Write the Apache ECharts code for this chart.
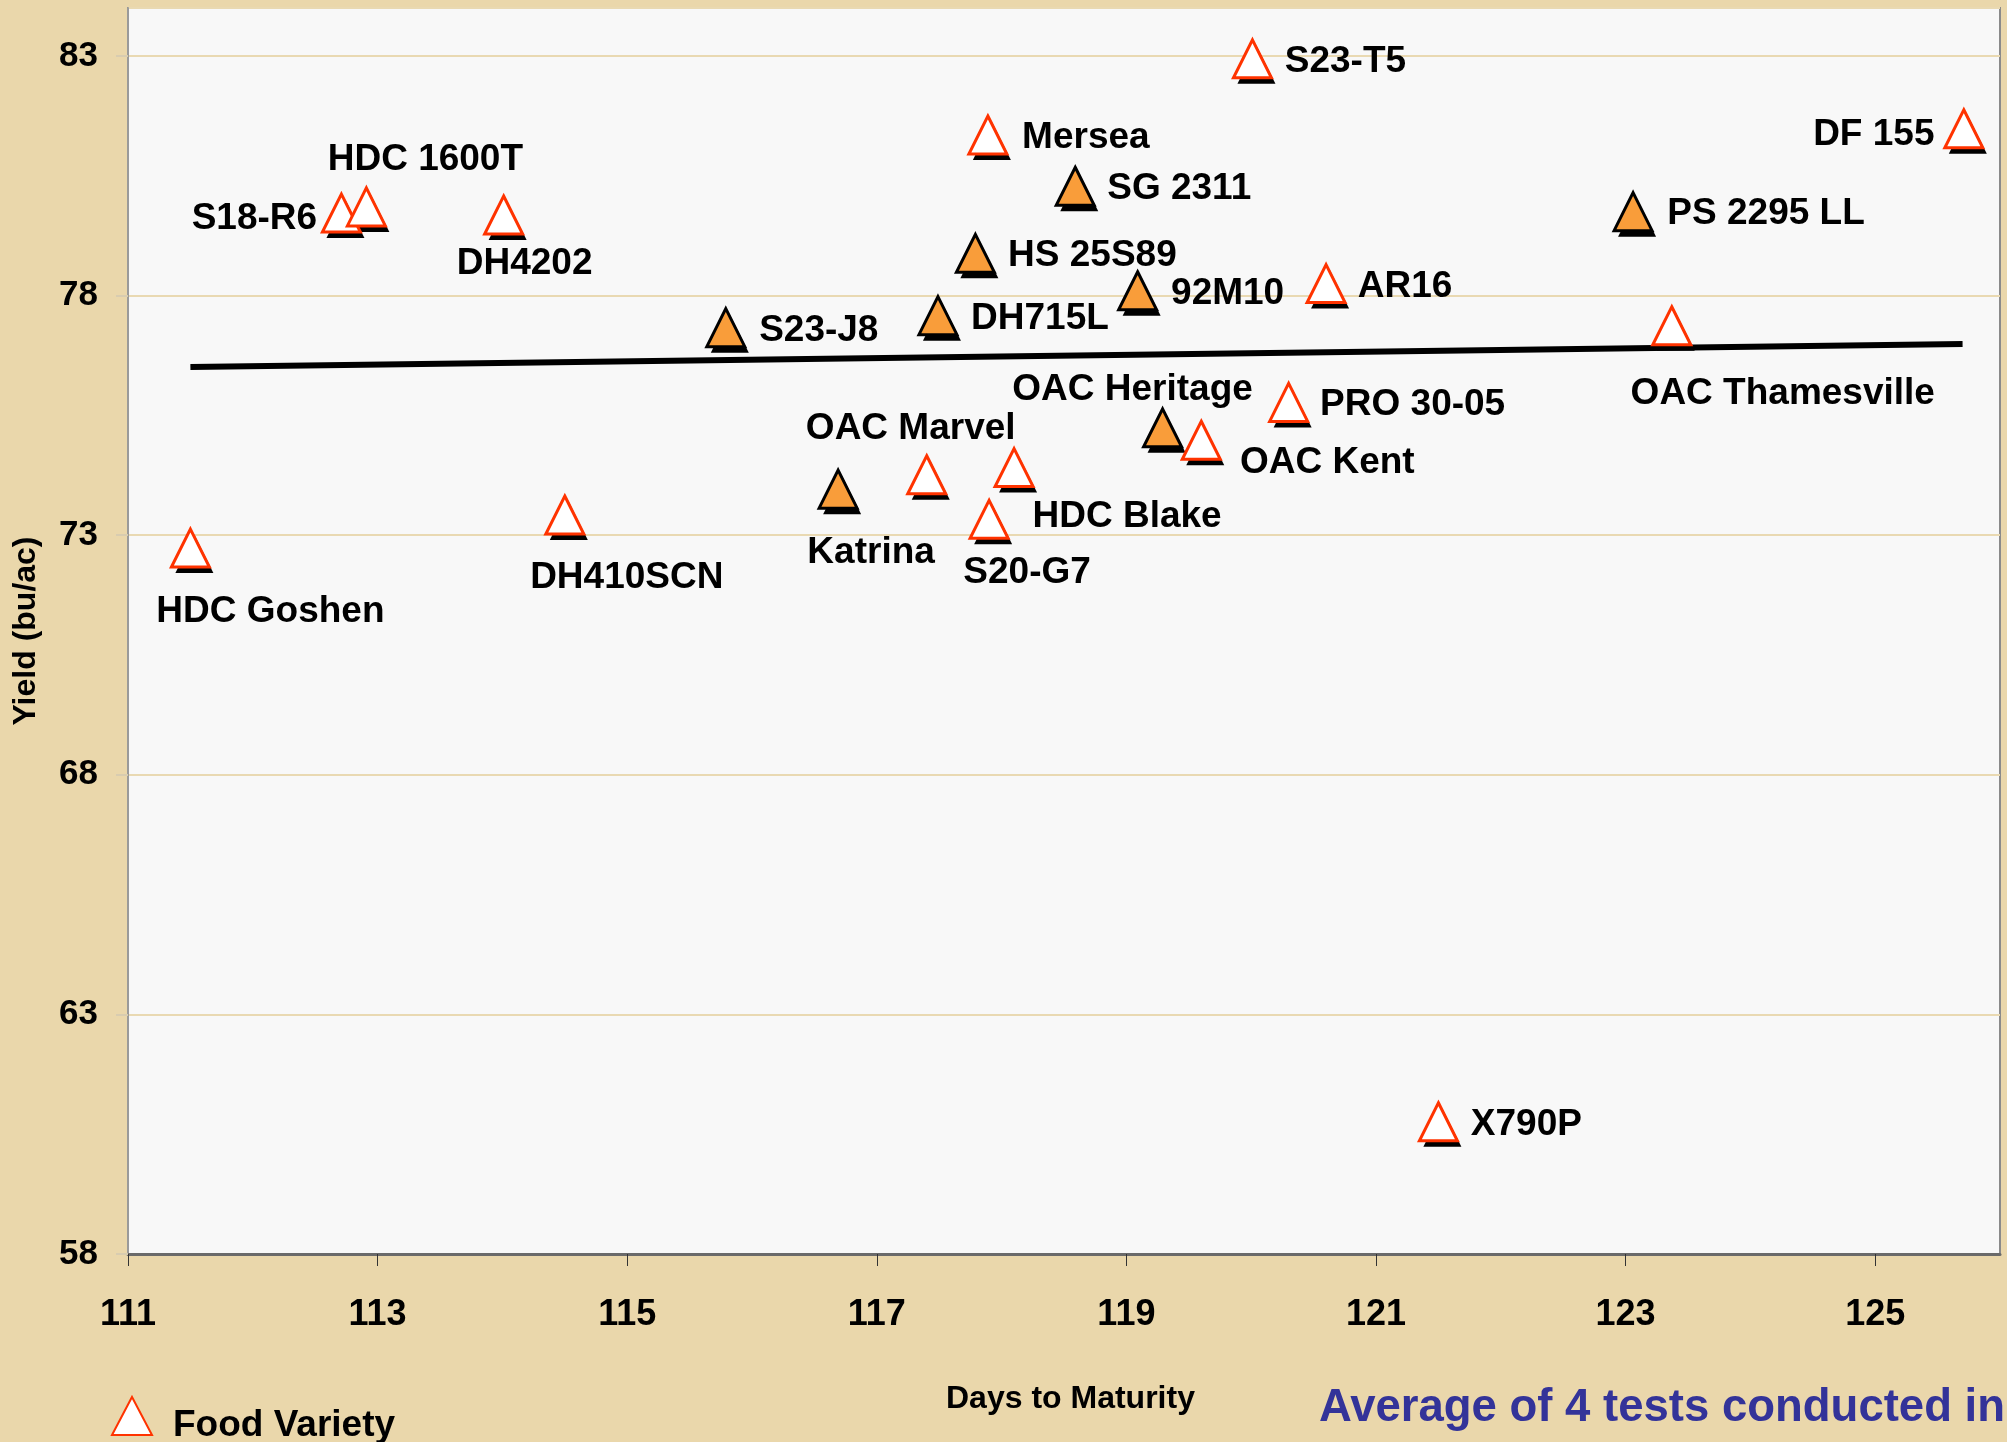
<!DOCTYPE html>
<html>
<head>
<meta charset="utf-8">
<title>Yield vs Days to Maturity</title>
<script src="https://cdn.jsdelivr.net/npm/echarts@6/dist/echarts.min.js"></script>
<style>
  html, body { margin: 0; padding: 0; background: #EAD7AB; }
  #chart { width: 2007px; height: 1442px; }
</style>
</head>
<body>
<div id="chart"></div>
<script>
// food varieties (white triangles)
const foodNames = ['HDC Goshen', 'S18-R6', 'HDC 1600T', 'DH4202', 'DH410SCN', 'OAC Marvel', 'Mersea', 'S20-G7',
  'HDC Blake', 'OAC Kent', 'S23-T5', 'PRO 30-05', 'AR16', 'X790P', 'OAC Thamesville', 'DF 155']
const foodDays = [111.5, 112.71, 112.91, 114.01, 114.5, 117.4, 117.89, 117.9,
  118.1, 119.6, 120.01, 120.3, 120.6, 121.5, 123.37, 125.71]
const foodYield = [72.73, 79.72, 79.85, 79.68, 73.42, 74.26, 81.35, 73.33,
  74.41, 74.98, 82.94, 75.77, 78.25, 60.76, 77.37, 81.48]

// feed varieties (orange triangles)
const feedNames = ['S23-J8', 'Katrina', 'DH715L', 'HS 25S89', 'SG 2311', '92M10', 'OAC Heritage', 'PS 2295 LL']
const feedDays = [115.79, 116.69, 117.49, 117.79, 118.59, 119.09, 119.29, 123.06]
const feedYield = [77.33, 73.96, 77.58, 78.88, 80.28, 78.1, 75.24, 79.75]

// linear trend line end points
const trendDays = [111.5, 125.7]
const trendYield = [76.51, 76.99]

// where each label sits relative to its marker (px)
const labelOffsets = {
  'HDC Goshen': [80, 64], 'S18-R6': [-87, 6], 'HDC 1600T': [59, -47], 'DH4202': [21, 49],
  'DH410SCN': [62, 63], 'S23-J8': [93, 3], 'Katrina': [33, 64], 'OAC Marvel': [-16, -46],
  'DH715L': [102, 3], 'HS 25S89': [117, 2], 'Mersea': [98, 3], 'S20-G7': [38, 53],
  'HDC Blake': [113, 49], 'SG 2311': [104, 3], '92M10': [90, 3], 'OAC Heritage': [-30, -38],
  'OAC Kent': [126, 23], 'S23-T5': [93, 3], 'PRO 30-05': [124, 2], 'AR16': [79, 3],
  'X790P': [88, 3], 'PS 2295 LL': [133, 2], 'OAC Thamesville': [111, 68], 'DF 155': [-90, 6]
}

const FONT = '"Liberation Sans", Arial, sans-serif'

function points(names, days, yields, withLabel) {
  return names.map((name, i) => ({
    name,
    value: [days[i], yields[i]],
    label: withLabel ? { offset: labelOffsets[name] || [0, 0] } : undefined
  }))
}

const markLabel = {
  show: true,
  position: 'inside',
  formatter: '{b}',
  color: '#000',
  fontFamily: FONT,
  fontWeight: 'bold',
  fontSize: 37,
  align: 'center',
  verticalAlign: 'middle',
  textBorderWidth: 0
}

// black copy of a marker set, nudged down-right, drawn behind as drop shadow
function shadowSeries(names, days, yields) {
  return {
    type: 'scatter',
    symbol: 'triangle',
    symbolSize: 38,
    symbolOffset: [4, 6],
    data: points(names, days, yields, false),
    itemStyle: { color: '#000', opacity: 1 },
    silent: true,
    emphasis: { disabled: true },
    z: 2
  }
}

const chart = echarts.init(document.getElementById('chart'))

chart.setOption({
  backgroundColor: '#EAD7AB',
  animation: false,
  grid: {
    left: 128, right: 7, top: 8, bottom: 188,
    show: true,
    backgroundColor: '#F8F8F8',
    borderColor: '#8A8A8A',
    borderWidth: 2
  },
  legend: {
    data: ['Food Variety'],
    left: 111, top: 1396,
    orient: 'vertical',
    padding: 0,
    itemWidth: 40, itemHeight: 38,
    formatter: '{t|{name}}',
    textStyle: {
      color: '#000',
      rich: {
        t: {
          fontFamily: FONT, fontWeight: 'bold', fontSize: 37, color: '#000',
          padding: [20, 0, 0, 16]
        }
      }
    }
  },
  xAxis: {
    type: 'value',
    min: 111, max: 126, interval: 2,
    axisLine: { onZero: false, lineStyle: { color: '#6A6A6A', width: 3 } },
    axisTick: { show: true, length: 12, lineStyle: { color: '#333', width: 1 } },
    axisLabel: {
      showMaxLabel: false, margin: 43,
      color: '#000', fontFamily: FONT, fontWeight: 'bold', fontSize: 36
    },
    splitLine: { show: false }
  },
  yAxis: {
    type: 'value',
    min: 58, max: 84, interval: 5,
    axisLine: { show: true, lineStyle: { color: '#9A9A9A', width: 2 } },
    axisTick: { show: true, length: 12, lineStyle: { color: '#D8CCB0', width: 2 } },
    axisLabel: {
      showMaxLabel: false, margin: 30,
      color: '#000', fontFamily: FONT, fontWeight: 'bold', fontSize: 35
    },
    splitLine: { show: true, lineStyle: { color: '#E9D9B2', width: 2 } }
  },
  graphic: [
    {
      type: 'text', left: 946, top: 1383,
      style: { text: 'Days to Maturity', fill: '#000', font: 'bold 32px ' + FONT }
    },
    {
      type: 'text', left: 1319, top: 1385,
      style: { text: 'Average of 4 tests conducted in', fill: '#333399', font: 'bold 45.5px ' + FONT }
    },
    {
      type: 'text', x: 26, y: 631, rotation: Math.PI / 2,
      style: {
        text: 'Yield (bu/ac)', fill: '#000', font: 'bold 32px ' + FONT,
        align: 'center', verticalAlign: 'middle'
      }
    }
  ],
  series: [
    {
      name: 'trend',
      type: 'line',
      data: trendDays.map((d, i) => [d, trendYield[i]]),
      showSymbol: false,
      lineStyle: { color: '#000', width: 6 },
      z: 1
    },
    shadowSeries(foodNames, foodDays, foodYield),
    shadowSeries(feedNames, feedDays, feedYield),
    {
      name: 'Food Variety',
      type: 'scatter',
      symbol: 'triangle',
      symbolSize: 38,
      data: points(foodNames, foodDays, foodYield, true),
      itemStyle: { color: '#FFFFFF', borderColor: '#FF3300', borderWidth: 3, opacity: 1 },
      label: markLabel,
      emphasis: { disabled: true },
      z: 3
    },
    {
      name: 'Feed Variety',
      type: 'scatter',
      symbol: 'triangle',
      symbolSize: 38,
      data: points(feedNames, feedDays, feedYield, true),
      itemStyle: { color: '#F99D3A', borderColor: '#000', borderWidth: 3, opacity: 1 },
      label: markLabel,
      emphasis: { disabled: true },
      z: 3
    }
  ]
})
</script>
</body>
</html>
